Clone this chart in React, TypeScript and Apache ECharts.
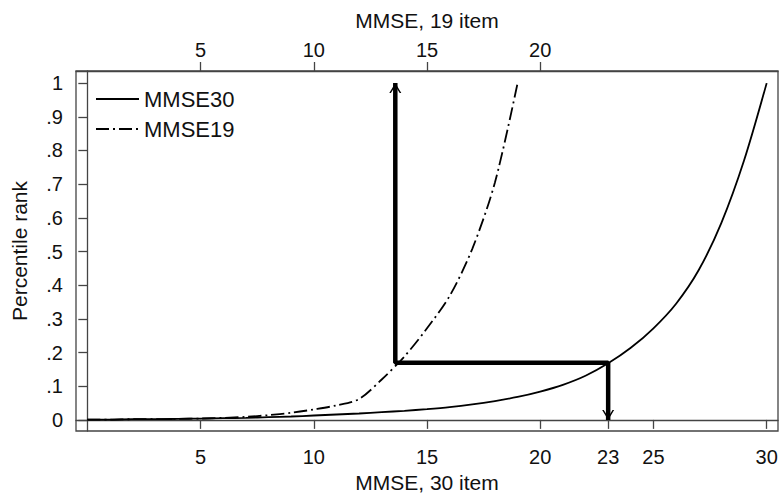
import React, { useEffect, useRef } from "react";
import * as echarts from "echarts";

// ---- data ----
const mmse30X = [0,1,2,3,4,5,6,7,8,9,10,11,12,13,14,15,16,17,18,19,20,21,22,23,24,25,26,27,28,29,30];
const mmse30Y = [0.001,0.001,0.002,0.002,0.003,0.004,0.005,0.006,0.008,0.010,0.013,0.016,0.019,0.023,0.027,0.032,0.038,0.046,0.056,0.068,0.084,0.104,0.131,0.168,0.214,0.272,0.345,0.445,0.585,0.770,1.0];
const mmse19X = [0,1,2,3,4,5,6,7,8,9,10,11,12,13,14,15,16,17,18,19];
const mmse19Y = [0.001,0.001,0.002,0.002,0.003,0.004,0.006,0.009,0.014,0.021,0.031,0.043,0.062,0.120,0.188,0.272,0.368,0.508,0.705,1.0];
const arrowX = [13.6, 13.6, 23, 23];
const arrowY = [1.0, 0.17, 0.17, 0];
const bottomTicks = [5, 10, 15, 20, 23, 25, 30];
const topTicks = [5, 10, 15, 20];
const yTicks = [0, 0.1, 0.2, 0.3, 0.4, 0.5, 0.6, 0.7, 0.8, 0.9, 1];

const FONT = "Liberation Sans";
const AX = "#444";
const CHEVRON = "path://M0,10 L6,0 L12,10 L10.4,10 L6,2.8 L1.6,10 Z";

export default function App() {
  const ref = useRef<HTMLDivElement>(null);
  useEffect(() => {
    if (!ref.current) return;
    const chart = echarts.init(ref.current, undefined, { renderer: "svg" });
    const xCommon = {
      type: "value",
      min: -0.5,
      max: 30.5,
      splitLine: { show: false },
      axisLine: { show: true, lineStyle: { color: AX, width: 1.3 } },
      axisTick: { show: true, length: 9, lineStyle: { color: AX, width: 1.3 } },
      nameLocation: "middle",
      nameTextStyle: { fontSize: 21, color: "#111", fontFamily: FONT },
    };
    const arrowData = arrowX.map((x, i) => {
      const base: any = { value: [x, arrowY[i]] };
      if (i === 0) {
        base.symbol = CHEVRON;
        base.symbolSize = [12, 10];
        base.symbolOffset = [0, 5];
      } else if (i === arrowX.length - 1) {
        base.symbol = CHEVRON;
        base.symbolSize = [12, 10];
        base.symbolRotate = 180;
        base.symbolOffset = [0, -5];
      } else {
        base.symbol = "none";
      }
      return base;
    });
    chart.setOption({
      animation: false,
      backgroundColor: "#fff",
      grid: {
        left: 76,
        right: 2,
        top: 71,
        bottom: 63,
        show: true,
        borderColor: AX,
        borderWidth: 1.3,
        outerBoundsMode: "none",
      },
      legend: {
        orient: "vertical",
        left: 90,
        top: 83,
        itemWidth: 43,
        itemHeight: 14,
        itemGap: 8,
        data: ["MMSE30", "MMSE19"],
        itemStyle: { opacity: 0 },
        textStyle: { fontSize: 22, color: "#111", fontFamily: FONT },
      },
      xAxis: [
        {
          ...xCommon,
          position: "bottom",
          name: "MMSE, 30 item",
          nameGap: 37,
          axisTick: { ...xCommon.axisTick, customValues: bottomTicks },
          axisLabel: { customValues: bottomTicks, fontSize: 20, color: "#111", fontFamily: FONT, margin: 16 },
        },
        {
          ...xCommon,
          position: "top",
          name: "MMSE, 19 item",
          nameGap: 40,
          axisTick: { ...xCommon.axisTick, customValues: topTicks },
          axisLabel: { customValues: topTicks, fontSize: 20, color: "#111", fontFamily: FONT, margin: 11 },
        },
      ],
      yAxis: {
        type: "value",
        min: -0.033,
        max: 1.036,
        name: "Percentile rank",
        nameLocation: "middle",
        nameGap: 46,
        nameTextStyle: { fontSize: 21, color: "#111", fontFamily: FONT },
        splitLine: { show: false },
        axisLine: { show: true, lineStyle: { color: AX, width: 1.3 } },
        axisTick: { show: true, length: 9, customValues: yTicks, lineStyle: { color: AX, width: 1.3 } },
        axisLabel: {
          customValues: yTicks,
          fontSize: 20,
          color: "#111",
          fontFamily: FONT,
          margin: 13,
          formatter: (v: number) => {
            if (Math.abs(v) < 1e-9) return "0";
            if (Math.abs(v - 1) < 1e-9) return "1";
            return "." + Math.round(v * 10);
          },
        },
      },
      series: [
        {
          name: "MMSE30",
          type: "line",
          xAxisIndex: 0,
          data: mmse30X.map((x, i) => [x, mmse30Y[i]]),
          symbol: "none",
          smooth: 0.3,
          lineStyle: { color: "#000", width: 1.8 },
          itemStyle: { color: "#000" },
        },
        {
          name: "MMSE19",
          type: "line",
          xAxisIndex: 0,
          data: mmse19X.map((x, i) => [x, mmse19Y[i]]),
          symbol: "none",
          smooth: 0.3,
          lineStyle: { color: "#000", width: 1.8, type: [13, 4, 2, 4] },
          itemStyle: { color: "#000" },
        },
        {
          name: "arrow",
          type: "line",
          xAxisIndex: 0,
          data: arrowData,
          lineStyle: { color: "#000", width: 4.5 },
          itemStyle: { color: "#000" },
          z: 5,
        },
      ],
    });
    return () => chart.dispose();
  }, []);
  return <div ref={ref} style={{ width: 780, height: 494, position: "absolute", left: 0, top: 0 }} />;
}
